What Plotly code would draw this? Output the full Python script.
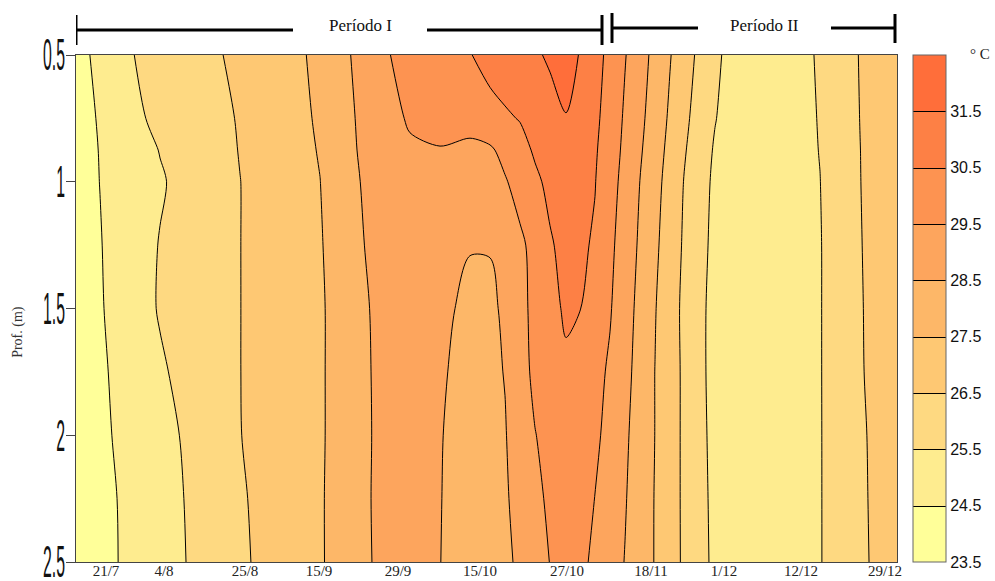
import plotly.graph_objects as go

# ---------------- data ----------------
depth = [0.5, 0.75, 0.875, 1.0, 1.25, 1.5, 1.75, 2.0, 2.25, 2.5]
# positions along the sampling axis (arbitrary units, 0 = start of record)
x_pos = [0, 24, 54, 84, 124, 164, 204, 244, 274, 304, 334, 364, 394, 414, 429, 444, 459, 474,
         490, 504, 519, 534, 549, 564, 579, 594, 609, 624, 639, 664, 704, 744, 784, 821]

t_050 = [24.17, 24.74, 25.45, 25.80, 26.24, 26.69, 27.00, 27.76, 28.48, 29.35, 29.78, 30.13, 30.47, 30.74,
         30.95, 31.16, 31.37, 31.63, 31.81, 31.46, 30.86, 30.23, 29.55, 28.89, 28.23, 27.55, 26.89, 26.28,
         25.72, 24.90, 25.05, 25.58, 26.54, 27.30]
t_075 = [24.07, 24.59, 25.30, 25.68, 26.12, 26.56, 26.98, 27.63, 28.38, 29.08, 29.60, 29.85, 30.10, 30.27,
         30.39, 30.54, 30.84, 31.15, 31.47, 31.09, 30.69, 30.10, 29.37, 28.72, 28.05, 27.36, 26.68, 26.09,
         25.54, 24.90, 25.05, 25.54, 26.51, 27.30]
t_0875 = [24.13, 24.53, 25.03, 25.53, 26.03, 26.53, 27.03, 27.55, 28.32, 29.09, 29.38, 29.45, 29.14, 29.35,
          29.81, 30.22, 30.60, 30.89, 31.20, 30.91, 30.60, 30.00, 29.28, 28.61, 27.93, 27.24, 26.55, 25.98,
          25.40, 24.95, 25.05, 25.52, 26.49, 27.30]
t_100 = [24.14, 24.51, 24.95, 25.41, 25.96, 26.49, 26.99, 27.49, 28.24, 29.00, 29.10, 29.15, 29.10, 29.20,
         29.41, 29.89, 30.35, 30.68, 30.96, 30.79, 30.53, 29.88, 29.18, 28.49, 27.82, 27.12, 26.43, 25.87,
         25.32, 24.95, 25.05, 25.49, 26.48, 27.30]
t_125 = [24.03, 24.46, 25.01, 25.54, 26.01, 26.49, 26.96, 27.43, 28.13, 28.90, 29.00, 28.85, 28.53, 28.53,
         28.90, 29.30, 29.82, 30.42, 30.73, 30.65, 30.40, 29.70, 29.05, 28.36, 27.68, 27.00, 26.35, 25.80,
         25.24, 24.95, 25.05, 25.46, 26.45, 27.30]
t_150 = [23.94, 24.42, 25.02, 25.57, 26.03, 26.49, 26.94, 27.39, 28.03, 28.75, 28.90, 28.65, 28.35, 28.38,
         28.60, 29.20, 29.77, 30.27, 30.61, 30.52, 30.07, 29.57, 28.91, 28.23, 27.55, 26.89, 26.28, 25.72,
         25.17, 24.95, 25.05, 25.46, 26.42, 27.30]
t_175 = [23.96, 24.36, 24.87, 25.38, 25.95, 26.49, 26.94, 27.39, 28.03, 28.70, 28.85, 28.57, 28.30, 28.32,
         28.53, 29.10, 29.72, 30.10, 30.37, 30.08, 29.76, 29.38, 28.78, 28.15, 27.49, 26.90, 26.31, 25.73,
         25.15, 24.95, 25.05, 25.46, 26.40, 27.30]
t_200 = [23.98, 24.33, 24.76, 25.20, 25.82, 26.48, 26.94, 27.39, 28.03, 28.68, 28.80, 28.53, 28.25, 28.27,
         28.45, 28.95, 29.47, 29.80, 29.95, 29.85, 29.65, 29.25, 28.65, 28.08, 27.49, 26.90, 26.31, 25.76,
         25.20, 24.95, 25.05, 25.46, 26.34, 27.20]
t_225 = [23.90, 24.25, 24.69, 25.13, 25.75, 26.40, 26.92, 27.41, 28.03, 28.70, 28.75, 28.52, 28.20, 28.22,
         28.40, 28.78, 29.25, 29.68, 29.80, 29.72, 29.49, 29.03, 28.56, 28.02, 27.46, 26.88, 26.32, 25.79,
         25.25, 24.95, 25.05, 25.46, 26.32, 27.16]
t_250 = [23.89, 24.24, 24.67, 25.11, 25.71, 26.35, 26.90, 27.41, 28.01, 28.68, 28.72, 28.51, 28.15, 28.17,
         28.33, 28.65, 29.08, 29.52, 29.70, 29.62, 29.40, 28.91, 28.47, 27.97, 27.46, 26.88, 26.33, 25.81,
         25.29, 24.95, 25.05, 25.46, 26.30, 27.12]
temp = [t_050, t_075, t_0875, t_100, t_125, t_150, t_175, t_200, t_225, t_250]

date_pos = [30, 88, 169, 243, 322, 404, 491, 575, 648, 725, 809]
date_labels = ["21/7", "4/8", "25/8", "15/9", "29/9", "15/10", "27/10", "18/11", "1/12", "12/12", "29/12"]

depth_ticks = [0.5, 1, 1.5, 2, 2.5]
depth_labels = ["0.5", "1", "1.5", "2", "2.5"]

cbar_ticks = [23.5, 24.5, 25.5, 26.5, 27.5, 28.5, 29.5, 30.5, 31.5]
band_colors = ["#FFFF99", "#FEEC8F", "#FED981", "#FEC873", "#FDB768",
               "#FDA55D", "#FD9351", "#FD8045", "#FF6E3A"]
t_min, t_max = 23.5, 32.5

# ---------------- figure ----------------
n_band = len(band_colors)
# colours sampled by the filled contours (band centres 23,24,...,33 -> 0,0.1,...,1)
stops = [band_colors[0]] + band_colors + [band_colors[-1]]
fill_scale = [[i / 10, c] for i, c in enumerate(stops)]
# stepped scale for the colour bar (23.5 .. 32.5)
step_scale = []
for i, c in enumerate(band_colors):
    step_scale.append([i / n_band, c])
    step_scale.append([(i + 1) / n_band, c])

fig = go.Figure()
fig.add_trace(go.Contour(
    x=x_pos, y=depth, z=temp,
    autocontour=False,
    contours=dict(start=23.5, end=32.5, size=1, coloring="fill", showlines=True),
    colorscale=fill_scale, showscale=False,
    line=dict(color="black", width=1, smoothing=0.85),
    hoverinfo="skip",
))

# colour-bar carrier (kept outside the visible x range)
fig.add_trace(go.Contour(
    x=[-60, -50], y=[depth[0], depth[-1]], z=[[t_min, t_max], [t_min, t_max]],
    autocontour=False,
    contours=dict(start=24.5, end=31.5, size=1, coloring="heatmap", showlines=True),
    colorscale=step_scale, zmin=t_min, zmax=t_max, zauto=False,
    line=dict(color="black", width=1),
    hoverinfo="skip",
    colorbar=dict(
        x=1.0195, xanchor="left", xpad=0, ypad=0,
        y=0, yanchor="bottom", len=1, lenmode="fraction",
        thickness=33, thicknessmode="pixels",
        outlinewidth=1, outlinecolor="#666666",
        tickmode="array", tickvals=cbar_ticks, ticktext=[f"{v:.1f}" for v in cbar_ticks],
        ticks="", ticklabelposition="outside",
        tickfont=dict(family="Liberation Sans, Arial, sans-serif", size=16, color="#111111"),
    ),
))

serif = "Liberation Serif, Times New Roman, serif"

fig.update_layout(
    template="none",
    width=995, height=581, autosize=False,
    margin=dict(l=76, r=98, t=55, b=19, autoexpand=False),
    paper_bgcolor="white", plot_bgcolor="white",
    showlegend=False,
    xaxis=dict(
        range=[0, 821], tickmode="array", tickvals=date_pos, ticktext=date_labels,
        ticks="", showgrid=False, zeroline=False, automargin=False,
        showline=True, linecolor="#444444", linewidth=1, mirror=True,
        tickfont=dict(family=serif, size=15, color="#222222"), ticklabelstandoff=-5,
        ticklabeloverflow="allow",
    ),
    yaxis=dict(
        range=[2.5, 0.5], tickmode="array", tickvals=depth_ticks, ticktext=depth_labels,
        ticks="outside", ticklen=9, tickcolor="#444444", tickwidth=1,
        showgrid=False, zeroline=False, automargin=False,
        showline=True, linecolor="#444444", linewidth=1, mirror=True,
        tickfont=dict(family="Liberation Sans, Arial, sans-serif", size=44, color="#111111"),
        ticklabelstandoff=0, ticklabeloverflow="allow",
    ),
)

fig.add_annotation(text="Prof. (m)", xref="paper", yref="paper", x=-0.0706, y=0.454,
                   xanchor="center", yanchor="middle",
                   textangle=-90, showarrow=False, font=dict(family=serif, size=14, color="#333333"))
fig.add_annotation(text="° C", xref="paper", yref="paper", x=1.0865, y=1.002, xanchor="left", yanchor="middle",
                   showarrow=False, font=dict(family=serif, size=15, color="#222222"))
fig.add_annotation(text="Período I", xref="x", yref="paper", x=284, y=1.059,
                   xanchor="center", yanchor="middle",
                   showarrow=False, font=dict(family=serif, size=17, color="#111111"))
fig.add_annotation(text="Período II", xref="x", yref="paper", x=688, y=1.059,
                   xanchor="center", yanchor="middle",
                   showarrow=False, font=dict(family=serif, size=17, color="#111111"))

# period brackets
def seg(x0, y0, x1, y1):
    fig.add_shape(type="line", xref="x", yref="paper", x0=x0, y0=y0, x1=x1, y1=y1,
                  line=dict(color="black", width=3))

seg(0, 1.0197, 0, 1.0789)
seg(0, 1.0493, 217, 1.0493)
seg(351, 1.0493, 526, 1.0493)
seg(526, 1.0197, 526, 1.0789)
seg(536, 1.0237, 536, 1.0828)
seg(536, 1.0533, 622, 1.0533)
seg(755, 1.0533, 819, 1.0533)
seg(819, 1.0237, 819, 1.0809)

# narrow (condensed) look of the depth tick labels, right edge kept next to the ticks
post = """
var gd = document.getElementById('{plot_id}');
var rightEdge = 65;
var gbox = gd.getBoundingClientRect();
gd.querySelectorAll('g.ytick text').forEach(function(t){
  var w = t.getComputedTextLength();
  t.setAttribute('textLength', (w * 0.36).toFixed(1));
  t.setAttribute('lengthAdjust', 'spacingAndGlyphs');
  var r = t.getBoundingClientRect();
  var dx = rightEdge - (r.right - gbox.left);
  var x0 = parseFloat(t.getAttribute('x') || '0');
  t.setAttribute('x', (x0 + dx).toFixed(1));
});
"""

fig.write_html("out.html", config={"displayModeBar": False}, post_script=post)
